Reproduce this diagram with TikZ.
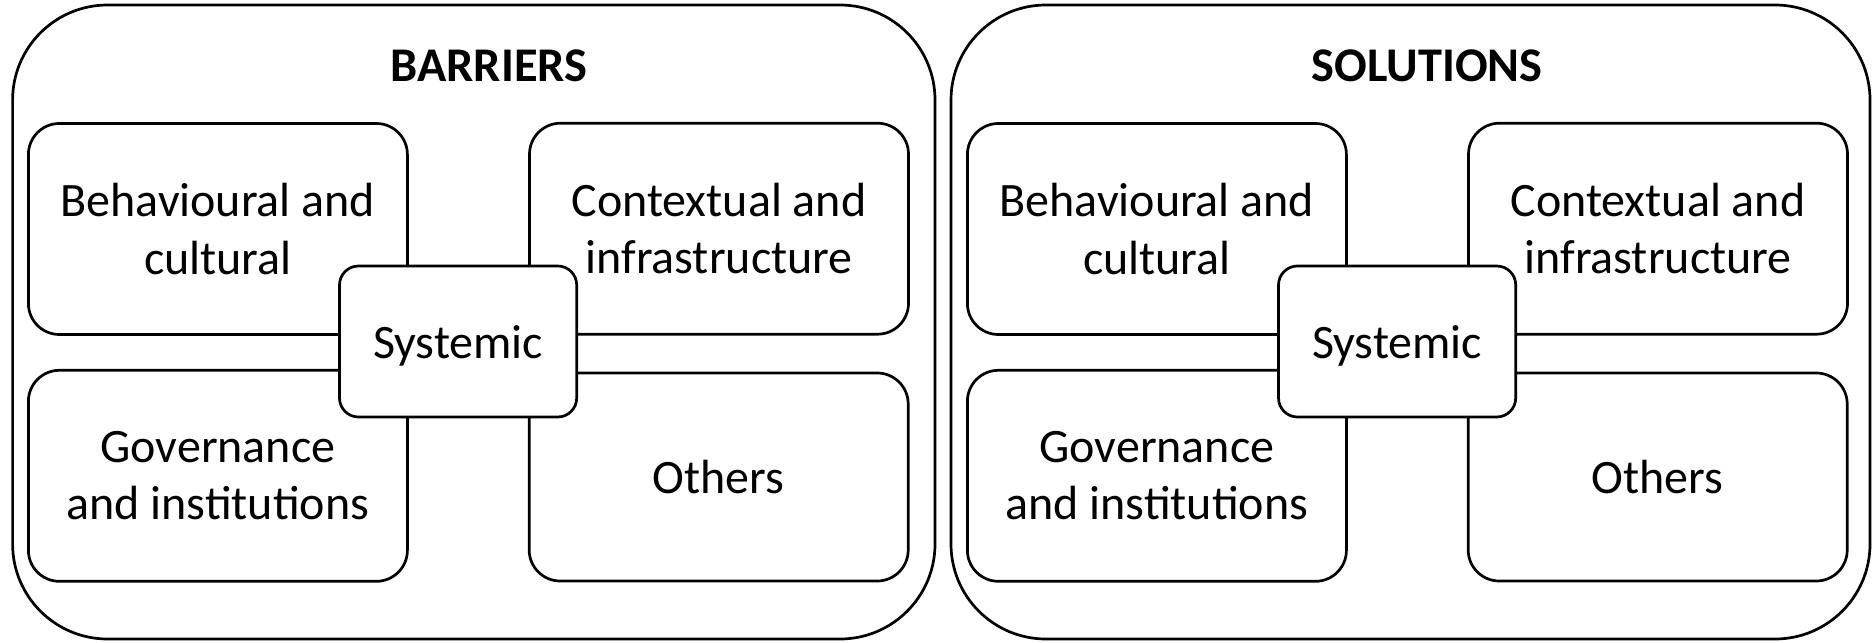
\documentclass[tikz,border=0pt]{standalone}
\usepackage{fontspec}
\setmainfont{Carlito}

\tikzset{every picture/.style={line width=1.35pt}}
\tikzset{
  panelbox/.style={draw, rounded corners=47.5pt, inner sep=0pt, minimum height=317pt},
  catbox/.style={draw, rounded corners=15.5pt, align=center, inner sep=0pt, minimum width=189.5pt, minimum height=105.5pt},
  corebox/.style={draw, fill=white, rounded corners=9.5pt, align=center, inner sep=0pt, text depth=0pt, minimum width=118.6pt, minimum height=75.5pt},
  headtext/.style={font=\fontsize{24.2}{28.75}\selectfont\bfseries, inner sep=0pt}
}

\begin{document}
\begin{tikzpicture}[x=0.5pt,y=0.5pt,yscale=-1,xscale=1,font=\fontsize{24}{28.75}\selectfont]
\useasboundingbox (0,0) rectangle (1872,642);

% Panel: barriers
\node (barpanel) at (473.8,322) [panelbox, minimum width=461.2pt] {};
\node (bartitle) at (489,66) [headtext] {BARRIERS};
% Text Node
\node (barbeh) at (217.9,229) [catbox] {Behavioural and\\cultural};
% Text Node
\node (barctx) at (719,228.7) [catbox] {Contextual and\\infrastructure};
% Text Node
\node (bargov) at (217.9,475.8) [catbox] {Governance\\and institutions};
% Text Node
\node (baroth) at (718.7,477) [catbox, minimum height=104pt] {Others};
% Text Node
\node (barsys) at (458.1,341.5) [corebox] {Systemic};

% Panel: solutions
\node (solpanel) at (1410.5,322) [panelbox, minimum width=459.5pt] {};
\node (soltitle) at (1427,66) [headtext] {SOLUTIONS};
% Text Node
\node (solbeh) at (1156.9,229) [catbox] {Behavioural and\\cultural};
% Text Node
\node (solctx) at (1658,228.7) [catbox] {Contextual and\\infrastructure};
% Text Node
\node (solgov) at (1156.9,475.8) [catbox] {Governance\\and institutions};
% Text Node
\node (soloth) at (1657.7,477) [catbox, minimum height=104pt] {Others};
% Text Node
\node (solsys) at (1397.1,341.5) [corebox] {Systemic};

\end{tikzpicture}
\end{document}
